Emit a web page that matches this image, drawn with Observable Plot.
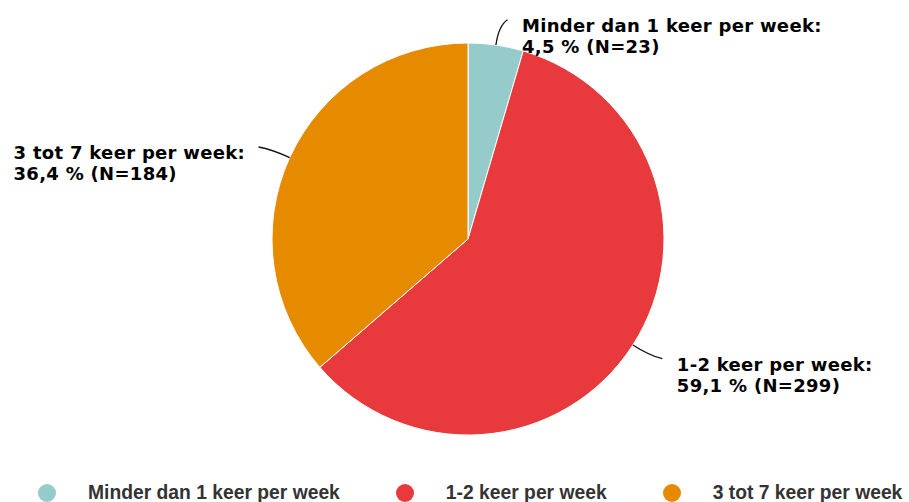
<!DOCTYPE html>
<html>
<head>
<meta charset="utf-8">
<script src="https://cdn.jsdelivr.net/npm/d3@7"></script>
<script src="https://cdn.jsdelivr.net/npm/@observablehq/plot@0.6"></script>
<style>
  body { margin: 0; background: #fff; }
  #chart svg { display: block; }
  #legend { display: flex; align-items: center; height: 30px; padding-left: 38px;
    font-family: "Liberation Sans", Arial, sans-serif; font-weight: bold; font-size: 19.3px; color: #333; white-space: nowrap; }
  .item { display: flex; align-items: center; margin-right: 56px; }
  .sw { width: 18px; height: 18px; border-radius: 50%; margin-right: 32px; flex: none; }
</style>
</head>
<body>
<div id="chart"></div>
<div id="legend"></div>
<script>
const categories = ["Minder dan 1 keer per week", "1-2 keer per week", "3 tot 7 keer per week"];
const counts = [23, 299, 184];
const percentLabels = ["4,5", "59,1", "36,4"];
const colors = ["#96cbcc", "#e83a3c", "#e68a00"];

const W = 909, H = 478, CX = 468, CY = 239, R = 196;
const FONT = 18, GAP = 14, LS = 0.3;

const data = categories.map((c, i) => ({cat: c, n: counts[i], pct: percentLabels[i], color: colors[i]}));
const arcs = d3.pie().sort(null).value(d => d.n)(data);

const ctx = document.createElement("canvas").getContext("2d");
ctx.font = `bold ${FONT}px "DejaVu Sans"`;
const measure = s => ctx.measureText(s).width + LS * s.length;

const labels = arcs.map(a => {
  const m = (a.startAngle + a.endAngle) / 2;
  const side = Math.sin(m) >= 0 ? 1 : -1;
  const text = `${a.data.cat}:\n${a.data.pct} % (N=${a.data.n})`;
  const w = d3.max(text.split("\n"), measure);
  const ex = 1.13 * Math.sin(m) + side * 8 / R;
  const ey = 1.13 * Math.cos(m);
  const tx = side > 0 ? ex + GAP / R : ex - (GAP + w) / R;
  return {m, side, text, ex, ey, tx,
    x0: Math.sin(m), y0: Math.cos(m), xc: 1.1 * Math.sin(m), yc: 1.1 * Math.cos(m)};
});

function pieMark(index, scales) {
  const cx = scales.x(0), cy = scales.y(0), r = scales.x(1) - scales.x(0);
  const g = d3.create("svg:g").attr("transform", `translate(${cx},${cy})`);
  const arcGen = d3.arc().innerRadius(0).outerRadius(r);
  g.selectAll("path").data(arcs).join("path")
    .attr("d", arcGen)
    .attr("fill", d => d.data.color)
    .attr("stroke", "#fff")
    .attr("stroke-width", 1)
    .attr("stroke-linejoin", "round");
  return g.node();
}

function connectorMark(index, scales) {
  const g = d3.create("svg:g").attr("fill", "none").attr("stroke", "#111").attr("stroke-width", 1.3);
  for (const l of labels) {
    const p = d3.path();
    p.moveTo(scales.x(l.x0), scales.y(l.y0));
    p.quadraticCurveTo(scales.x(l.xc), scales.y(l.yc), scales.x(l.ex), scales.y(l.ey));
    g.append("path").attr("d", p.toString());
  }
  return g.node();
}

const chart = Plot.plot({
  width: W, height: H,
  marginTop: 0, marginRight: 0, marginBottom: 0, marginLeft: 0,
  style: {letterSpacing: LS + "px"},
  x: {domain: [-CX / R, (W - CX) / R], axis: null},
  y: {domain: [-(H - CY) / R, CY / R], axis: null},
  marks: [
    pieMark,
    connectorMark,
    Plot.text(labels, {
      x: "tx", y: "ey", text: "text",
      textAnchor: "start", lineAnchor: "top", dy: -4,
      fontSize: FONT, fontWeight: "bold", fontFamily: "DejaVu Sans",
      fill: "#000", lineHeight: 1.2
    })
  ]
});
document.getElementById("chart").appendChild(chart);

const legend = d3.select("#legend");
categories.forEach((c, i) => {
  const it = legend.append("div").attr("class", "item");
  it.append("div").attr("class", "sw").style("background", colors[i]);
  it.append("span").text(c);
});
</script>
</body>
</html>
